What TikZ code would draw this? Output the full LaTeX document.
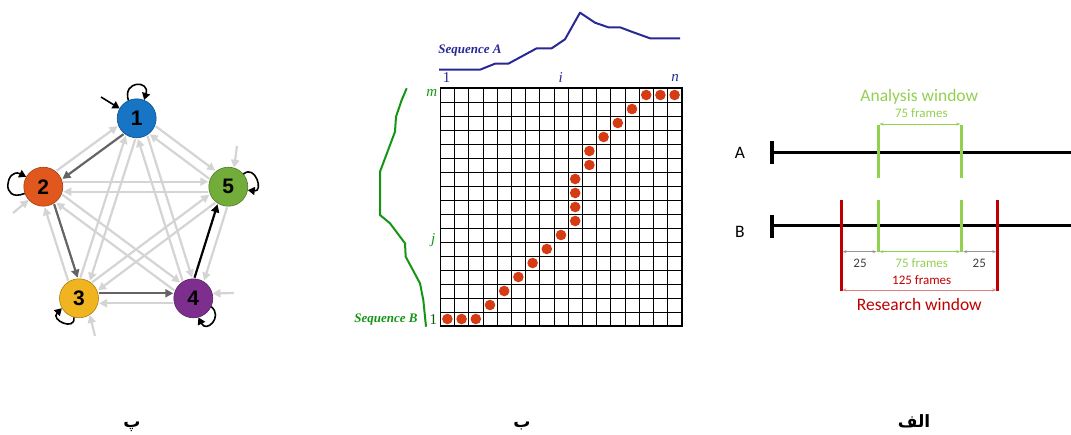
\documentclass[tikz,border=0pt]{standalone}
\usepackage{fontspec}
\setmainfont{Carlito}
\newfontfamily\numfont{Liberation Sans}
\newfontfamily\seqfont{Liberation Serif}
\newfontfamily\arabicfont[Script=Arabic]{DejaVu Sans}
\TeXXeTstate=1
\usetikzlibrary{arrows.meta,calc}
\definecolor{stblue}{RGB}{24,116,196}
\definecolor{storange}{RGB}{224,88,30}
\definecolor{stgreen}{RGB}{114,172,58}
\definecolor{styellow}{RGB}{240,180,32}
\definecolor{stpurple}{RGB}{126,47,142}
\definecolor{litegray}{RGB}{212,212,212}
\definecolor{edgedark}{RGB}{100,100,100}
\definecolor{seqblue}{RGB}{40,40,150}
\definecolor{seqgreen}{RGB}{20,150,20}
\definecolor{dotred}{RGB}{214,60,20}
\definecolor{winGreen}{RGB}{146,208,80}
\definecolor{winRed}{RGB}{192,0,0}
\definecolor{dimGray}{RGB}{150,150,150}
\definecolor{txtGray}{RGB}{64,64,64}

\begin{document}
\begin{tikzpicture}[
      x=1pt, y=-1pt,
      state/.style={circle, minimum size=39pt, inner sep=0pt, line width=0.6pt,
                    font=\numfont\bfseries\fontsize{21}{21}\selectfont},
      lite/.style={-{Triangle[length=8pt,width=8pt]}, line width=2.2pt, litegray},
      dark/.style={lite, edgedark},
      blk/.style={lite, black},
      loopy/.style={-{Triangle[length=7pt,width=8pt]}, line width=1.6pt, black},
      seqtxt/.style={font=\seqfont\bfseries\itshape\fontsize{13}{15}\selectfont},
      idx/.style={font=\seqfont\itshape\fontsize{15}{17}\selectfont},
      dot/.style={fill=dotred},
      tl/.style={line width=3.5pt, black},
      gwin/.style={line width=3pt, winGreen},
      rwin/.style={line width=3pt, winRed},
      dim/.style={{Stealth[length=4pt,width=3pt]}-{Stealth[length=4pt,width=3pt]}, line width=0.6pt},
      lbl/.style={font=\fontsize{17.5}{20}\selectfont},
      small/.style={font=\fontsize{13}{15}\selectfont},
      fa/.style={anchor=base, font=\arabicfont\bfseries\fontsize{17}{20}\selectfont},
    ]
    \useasboundingbox (0,0) rectangle (1071,434);

    % ---------- state graph ----------
    \node[state, fill=stblue, draw=stblue!70!black] (n1) at (136.7,118.3) {1};
    \node[state, fill=storange, draw=storange!70!black] (n2) at (43.3,186.7) {2};
    \node[state, fill=stgreen, draw=stgreen!70!black] (n5) at (228.3,186.7) {5};
    \node[state, fill=styellow, draw=styellow!70!black] (n3) at (79,298.3) {3};
    \node[state, fill=stpurple, draw=stpurple!70!black] (n4) at (193.3,298.3) {4};

    \foreach \a/\b in {2/1,1/3,3/1,1/4,4/1,1/5,5/1,3/2,2/4,4/2,2/5,5/2,4/3,3/5,5/3,5/4}
      \draw[lite] ($(n\a)!20pt!(n\b)!5pt!90:(n\b)$) -- ($(n\b)!20pt!(n\a)!5pt!-90:(n\a)$);
    \foreach \a/\b/\s in {1/2/dark,2/3/dark,3/4/dark,4/5/blk}
      \draw[\s] ($(n\a)!20pt!(n\b)!5pt!90:(n\b)$) -- ($(n\b)!20pt!(n\a)!5pt!-90:(n\a)$);

    % initial arrows
    \coordinate (i1) at (101,97);
    \coordinate (i2) at (13,213);
    \coordinate (i5) at (237,146);
    \coordinate (i3) at (95,336);
    \coordinate (i4) at (234,293);
    \draw[loopy] (i1) -- (n1.150);
    \draw[lite] (i2) -- (n2.222);
    \draw[lite] (i5) -- (n5.73);
    \draw[lite] (i3) -- (n3.303);
    \draw[lite] (i4) -- (n4.14);

    % self loops
    \draw[loopy] (n1.115) .. controls +(-6,-20) and +(6,-20) .. (n1.68);
    \draw[loopy] (n2.200) .. controls +(-25,10) and +(-20,-10) .. (n2.150);
    \draw[loopy] (n5.40) .. controls +(12,-10) and +(16,2) .. (n5.-10);
    \draw[loopy] (n3.255) .. controls +(2,14) and +(-12,12) .. (n3.210);
    \draw[loopy] (n4.-25) .. controls +(12,10) and +(8,16) .. (n4.-75);

    % ---------- alignment grid ----------
    \foreach \i in {0,...,17} {
      \draw[line width=0.8pt] ({440.3+14.2*\i},88) -- ({440.3+14.2*\i},326);
      \draw[line width=0.8pt] (440.3,{88+14*\i}) -- (681.7,{88+14*\i});
    }
    \draw[line width=1.6pt] (440.3,88) rectangle (681.7,326);
    \foreach \c/\r in {1/1,2/1,3/1,4/2,5/3,6/4,7/5,8/6,9/7,10/8,10/9,10/10,10/11,
                       11/12,11/13,12/14,13/15,14/16,15/17,16/17,17/17}
      \fill[dot] ({440.3+14.2*\c-7.1},{326-14*\r+7}) circle (5.3);

    \draw[seqblue, line width=2pt, line join=round]
      (439,69.7) -- (480,69.7) -- (495,63.7) -- (508.3,63.7) -- (536.7,48.3) -- (551.7,48.3)
      -- (565,39.3) -- (580,12.7) -- (595,22.7) -- (608.3,27.3) -- (620,27.3) -- (633.3,32.3)
      -- (650,38.3) -- (680,38.3);
    \draw[seqgreen, line width=2pt, line join=round]
      (406.7,88.3) -- (401.7,100) -- (396,116.7) -- (395,131.7) -- (380,171.7) -- (380,215)
      -- (390,223.3) -- (405,243.3) -- (405.7,256.7) -- (420,283.3) -- (423.3,300) -- (426,326.7);

    \node[seqtxt, seqblue] (seqA) at (470,51) {Sequence A};
    \node[seqtxt, seqgreen] (seqB) at (386,320) {Sequence B};
    \node[idx, seqblue, font=\seqfont\fontsize{15}{17}\selectfont] (c1) at (446.7,78) {1};
    \node[idx, seqblue] (ci) at (560.7,78) {i};
    \node[idx, seqblue] (cn) at (675,78) {n};
    \node[idx, seqgreen] (rm) at (431.7,93) {m};
    \node[idx, seqgreen] (rj) at (433.3,240) {j};
    \node[idx, seqgreen!60!black, font=\seqfont\fontsize{15}{17}\selectfont] (r1) at (433.3,320) {1};

    % ---------- analysis / research windows ----------
    \coordinate (aL) at (772,152.3);
    \coordinate (aR) at (1071,152.3);
    \coordinate (bL) at (772,225.7);
    \coordinate (bR) at (1071,225.7);
    \draw[tl] (aL) -- (aR);
    \draw[tl] (bL) -- (bR);
    \draw[tl] ($(aL)+(0,-11)$) -- ($(aL)+(0,12)$);
    \draw[tl] ($(bL)+(0,-11)$) -- ($(bL)+(0,12)$);
    \node[lbl] (tA) at (740,153) {A};
    \node[lbl] (tB) at (740,232) {B};

    \draw[gwin] (878,125) -- (878,178.3);
    \draw[gwin] (961.7,125) -- (961.7,178.3);
    \draw[gwin] (878,200) -- (878,251.7);
    \draw[gwin] (961.7,200) -- (961.7,251.7);
    \draw[rwin] (841,200) -- (841,290.7);
    \draw[rwin] (997.7,200) -- (997.7,290.7);

    \draw[dim, winGreen] (879.5,124) -- (960.2,124);
    \draw[dim, dimGray] (842.5,251.7) -- (876.5,251.7);
    \draw[dim, winGreen] (879.5,251.7) -- (960.2,251.7);
    \draw[dim, dimGray] (963.2,251.7) -- (996.2,251.7);
    \draw[dim, winRed!50] (842.5,290) -- (996.2,290);

    \node[lbl, winGreen] (aw) at (919.3,97.3) {Analysis window};
    \node[small, winGreen] (af) at (921.3,113.5) {75 frames};
    \node[small, txtGray] (d1) at (860,263.3) {25};
    \node[small, winGreen] (d2) at (921.7,263.3) {75 frames};
    \node[small, txtGray] (d3) at (979.3,263.3) {25};
    \node[small, winRed] (rf) at (921.7,280.5) {125 frames};
    \node[lbl, winRed] (rw) at (919.3,304) {Research window};

    % ---------- panel labels ----------
    \node[fa] (pA) at (914,427) {\beginR الف\endR};
    \node[fa] (pB) at (522,427) {\beginR ب\endR};
    \node[fa] (pC) at (132,427) {\beginR پ\endR};
  \end{tikzpicture}
\end{document}
